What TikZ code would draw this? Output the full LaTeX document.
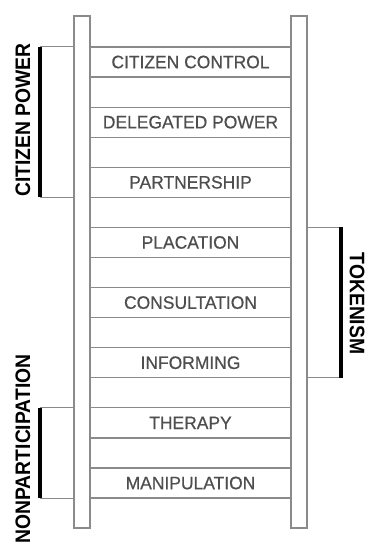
\documentclass[tikz,border=0pt]{standalone}
\usepackage{fontspec}
\setmainfont{Liberation Sans}
\newfontfamily\stepfont[FakeBold=0.6]{Liberation Sans}
\definecolor{railgray}{HTML}{8A8A8A}
\definecolor{textgray}{HTML}{4E4E4E}
\begin{document}
\begin{tikzpicture}[x=1pt,y=-1pt,
  railbox/.style={draw=railgray,line width=1.1pt,fill=white,minimum width=16pt,minimum height=512pt,inner sep=0pt},
  rungline/.style={draw=railgray,line width=1.2pt},
  steplabel/.style={font=\stepfont\fontsize{18}{18}\selectfont,text=textgray,inner sep=0pt},
  grouplabel/.style={font=\fontsize{21}{21}\selectfont\bfseries,text=black,inner sep=0pt},
  groupbar/.style={line width=4pt,black},
  tickline/.style={draw=railgray,line width=1pt}]
\useasboundingbox (0,0) rectangle (366,548);
% rails
\node[railbox] (leftrail) at (82,272) {};
\node[railbox] (rightrail) at (299,272) {};
% rungs
\foreach \k in {0,...,15}{
  \coordinate (r\k) at (190.5,{47+30.07*\k});
  \draw[rungline] (leftrail.east |- r\k) -- (rightrail.west |- r\k);
}
% step labels
\foreach \i/\t in {0/CITIZEN CONTROL,1/DELEGATED POWER,2/PARTNERSHIP,3/PLACATION,4/CONSULTATION,5/INFORMING,6/THERAPY,7/MANIPULATION}{
  \node[steplabel] (s\i) at (190.5,{47+30.07*(2*\i+0.5)}) {\scalebox{0.97}[1]{\t}};
}
% citizen power bracket
\coordinate (cpT) at (40,47);
\coordinate (cpB) at (40,{47+30.07*5});
\draw[tickline] (cpT) -- (leftrail.west |- cpT);
\draw[tickline] (cpB) -- (leftrail.west |- cpB);
\draw[groupbar] (cpT) -- (cpB);
\node[grouplabel,rotate=90] (cp) at (23,120) {\scalebox{0.92}[1]{CITIZEN POWER}};
% tokenism bracket
\coordinate (tkT) at (340.5,{47+30.07*6});
\coordinate (tkB) at (340.5,{47+30.07*11});
\draw[tickline] (tkT) -- (rightrail.east |- tkT);
\draw[tickline] (tkB) -- (rightrail.east |- tkB);
\draw[groupbar] (tkT) -- (tkB);
\node[grouplabel,rotate=-90] (tk) at (357,303.5) {\scalebox{0.92}[1]{TOKENISM}};
% nonparticipation bracket
\coordinate (npT) at (40,{47+30.07*12});
\coordinate (npB) at (40,{47+30.07*15});
\draw[tickline] (npT) -- (leftrail.west |- npT);
\draw[tickline] (npB) -- (leftrail.west |- npB);
\draw[groupbar] (npT) -- (npB);
\node[grouplabel,rotate=90] (np) at (23,449) {\scalebox{0.92}[1]{NONPARTICIPATION}};
\end{tikzpicture}
\end{document}
